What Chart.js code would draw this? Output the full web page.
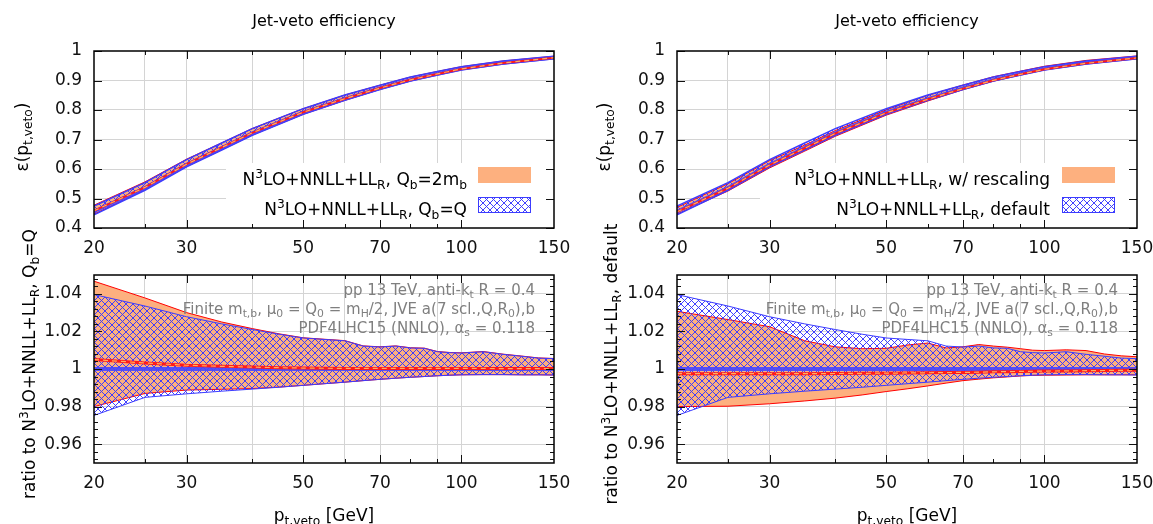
<!DOCTYPE html>
<html><head><meta charset="utf-8">
<script src="https://cdn.jsdelivr.net/npm/chart.js@4.4.1/dist/chart.umd.min.js"></script>
<style>
html,body{margin:0;padding:0;background:#fff;}
body{width:1153px;height:524px;overflow:hidden;position:relative;font-family:"DejaVu Sans",sans-serif;}
canvas{position:absolute;}
.t{position:absolute;white-space:nowrap;color:#000;}
sub,sup{font-size:72%;line-height:0;}
sub{vertical-align:-0.32em;} sup{vertical-align:0.55em;}
.rot{transform:translate(-50%,-50%) rotate(-90deg);}
.ttl{font-size:16px;line-height:20px;transform:translateX(-50%);}
.lab{font-size:17px;line-height:20px;}
.leg{font-size:17px;line-height:20px;text-align:right;}
.ann{font-size:15px;line-height:18px;color:#7f7f7f;text-align:right;}
</style></head>
<body>
<canvas id="c1" width="576" height="262" style="left:0;top:0"></canvas>
<canvas id="c2" width="576" height="262" style="left:0;top:262px"></canvas>
<canvas id="c3" width="570" height="262" style="left:583px;top:0"></canvas>
<canvas id="c4" width="570" height="262" style="left:583px;top:262px"></canvas>

<div class="t ttl" style="left:324px;top:11px">Jet-veto efficiency</div>
<div class="t ttl" style="left:907px;top:11px">Jet-veto efficiency</div>

<div class="t lab rot" style="left:22px;top:137px">ε(p<sub>t,veto</sub>)</div>
<div class="t lab rot" style="left:604px;top:137px">ε(p<sub>t,veto</sub>)</div>
<div class="t lab rot" style="left:29px;top:364px">ratio to N<sup>3</sup>LO+NNLL+LL<sub>R</sub>, Q<sub>b</sub>=Q</div>
<div class="t lab rot" style="left:611px;top:364px">ratio to N<sup>3</sup>LO+NNLL+LL<sub>R</sub>, default</div>

<div class="t lab" style="left:324px;top:505px;transform:translateX(-50%)">p<sub>t,veto</sub> [GeV]</div>
<div class="t lab" style="left:907px;top:505px;transform:translateX(-50%)">p<sub>t,veto</sub> [GeV]</div>

<div class="t leg" style="right:686px;top:169px">N<sup>3</sup>LO+NNLL+LL<sub>R</sub>, Q<sub>b</sub>=2m<sub>b</sub></div>
<div class="t leg" style="right:686px;top:199px">N<sup>3</sup>LO+NNLL+LL<sub>R</sub>, Q<sub>b</sub>=Q</div>
<div class="t leg" style="right:103px;top:169px">N<sup>3</sup>LO+NNLL+LL<sub>R</sub>, w/ rescaling</div>
<div class="t leg" style="right:103px;top:199px">N<sup>3</sup>LO+NNLL+LL<sub>R</sub>, default</div>

<div class="t ann" style="right:618px;top:281px">pp 13 TeV, anti-k<sub>t</sub> R = 0.4</div>
<div class="t ann" style="right:618px;top:299.5px">Finite m<sub>t,b</sub>, μ<sub>0</sub> = Q<sub>0</sub> = m<sub>H</sub>/2, JVE a(7 scl.,Q,R<sub>0</sub>),b</div>
<div class="t ann" style="right:618px;top:318.5px">PDF4LHC15 (NNLO), α<sub>s</sub> = 0.118</div>
<div class="t ann" style="right:35px;top:281px">pp 13 TeV, anti-k<sub>t</sub> R = 0.4</div>
<div class="t ann" style="right:35px;top:299.5px">Finite m<sub>t,b</sub>, μ<sub>0</sub> = Q<sub>0</sub> = m<sub>H</sub>/2, JVE a(7 scl.,Q,R<sub>0</sub>),b</div>
<div class="t ann" style="right:35px;top:318.5px">PDF4LHC15 (NNLO), α<sub>s</sub> = 0.118</div>

<script>
// ---------------- data ----------------
// x axis (p_t,veto in GeV)
const xTickValues = [20,25,30,40,50,60,70,80,90,100,150];
const xTickLabels = [20,30,50,70,100,150];
const xGridValues = [25,30,40,50,60,70,90,100];
const xMajorTicks = [30,50,70,100];
const xMinorTicks = [25,40,60,80,90];

const yTopTicks = [0.4,0.5,0.6,0.7,0.8,0.9,1];
const yTopTickLabels = ['0.4','0.5','0.6','0.7','0.8','0.9','1'];
const yBotTicks = [0.96,0.98,1,1.02,1.04];
const yBotTickLabels = ['0.96','0.98','1','1.02','1.04'];
const yBotMinor = [0.952,0.956,0.964,0.968,0.972,0.976,0.984,0.988,0.992,0.996,1.004,1.008,1.012,1.016,1.024,1.028,1.032,1.036,1.044,1.048];

// top panels: efficiency
const ptTop = [20,25,30,35,40,50,60,70,80,90,100,120,150];
const effQ_central = [0.456,0.536,0.615,0.672,0.722,0.792,0.838,0.874,0.902,0.922,0.939,0.959,0.977];
const effQ_up      = [0.4741,0.5537,0.6319,0.6881,0.7368,0.8045,0.8507,0.8842,0.9119,0.9307,0.9470,0.9663,0.9824];
const effQ_lo      = [0.4447,0.5280,0.6070,0.6643,0.7144,0.7853,0.8326,0.8696,0.8984,0.9190,0.9362,0.9561,0.9741];
const eff2mb_central = [0.4583,0.5376,0.6162,0.6730,0.7227,0.7924,0.8383,0.8743,0.9023,0.9223,0.9393,0.9593,0.9773];
const eff2mb_up      = [0.4773,0.5563,0.6333,0.6888,0.7372,0.8045,0.8507,0.8842,0.9119,0.9307,0.9470,0.9663,0.9824];
const eff2mb_lo      = [0.4469,0.5291,0.6082,0.6649,0.7148,0.7853,0.8326,0.8696,0.8984,0.9190,0.9362,0.9561,0.9741];
const effRes_central = [0.4549,0.5347,0.6135,0.6703,0.7203,0.7903,0.8363,0.8725,0.9007,0.9209,0.9381,0.9582,0.9765];
const effRes_up      = [0.4700,0.5501,0.6285,0.6811,0.7303,0.8007,0.8497,0.8845,0.9128,0.9317,0.9482,0.9681,0.9833];
const effRes_lo      = [0.4469,0.5253,0.6036,0.6606,0.7108,0.7825,0.8305,0.8688,0.8979,0.9189,0.9360,0.9561,0.9741];

// bottom panels: ratios
const pt = [20,25,30,35,40,45,50,55,60,65,70,75,80,85,90,95,100,110,120,130,140,150];
const ratioQ_central = [1,1,1,1,1,1,1,1,1,1,1,1,1,1,1,1,1,1,1,1,1,1];
const ratioQ_up = [1.0396,1.0335,1.0278,1.0240,1.0210,1.0185,1.0165,1.0157,1.0150,1.0122,1.0117,1.0122,1.0112,1.0110,1.0092,1.0087,1.0085,1.0092,1.0078,1.0068,1.0058,1.0055];
const ratioQ_lo = [0.9753,0.9849,0.9868,0.9882,0.9893,0.9903,0.9913,0.9922,0.9930,0.9938,0.9945,0.9951,0.9956,0.9960,0.9964,0.9967,0.9969,0.9970,0.9970,0.9969,0.9969,0.9968];
const ratio2mb_central = [1.0050,1.0032,1.0020,1.0014,1.0010,1.0007,1.0005,1.0004,1.0003,1.0003,1.0003,1.0003,1.0003,1.0003,1.0003,1.0003,1.0003,1.0003,1.0002,1.0002,1.0002,1.0002];
const ratio2mb_up = [1.0467,1.0378,1.0300,1.0250,1.0215,1.0187,1.0166,1.0158,1.0151,1.0123,1.0118,1.0123,1.0113,1.0111,1.0093,1.0088,1.0086,1.0093,1.0079,1.0069,1.0059,1.0056];
const ratio2mb_lo = [0.9800,0.9870,0.9888,0.9892,0.9896,0.9904,0.9913,0.9922,0.9930,0.9938,0.9945,0.9951,0.9956,0.9960,0.9964,0.9967,0.9969,0.9970,0.9970,0.9969,0.9969,0.9968];
const ratioRes_central = [0.9975,0.9975,0.9975,0.9975,0.9976,0.9977,0.9978,0.9979,0.9980,0.9981,0.9982,0.9983,0.9985,0.9986,0.9987,0.9988,0.9989,0.9990,0.9991,0.9992,0.9993,0.9994];
const ratioRes_up = [1.0307,1.0263,1.0225,1.0150,1.0118,1.0108,1.0110,1.0128,1.0138,1.0112,1.0118,1.0130,1.0122,1.0116,1.0108,1.0100,1.0098,1.0102,1.0098,1.0080,1.0070,1.0065];
const ratioRes_lo = [0.9800,0.9802,0.9815,0.9830,0.9845,0.9862,0.9880,0.9895,0.9910,0.9925,0.9938,0.9946,0.9953,0.9958,0.9963,0.9966,0.9967,0.9968,0.9969,0.9969,0.9969,0.9969];

// ---------------- styles ----------------
const FONT = 'DejaVu Sans';
const ORANGE = '#fdb07f';
const RED = '#ff0000';
const BLUE = '#3c3cff';
const GRID = '#d4d4d4';

function hatchPattern(ctx){
  const c = document.createElement('canvas'); c.width = 7; c.height = 7;
  const g = c.getContext('2d');
  g.strokeStyle = 'rgba(55,55,255,0.95)'; g.lineWidth = 1;
  g.beginPath(); g.moveTo(-1,-1); g.lineTo(8,8); g.moveTo(-1,8); g.lineTo(8,-1); g.stroke();
  return ctx.createPattern(c,'repeat');
}
const pts = (xs, ys) => xs.map((x,i)=>({x, y: ys[i]}));

const framePlugin = {
  id:'frame',
  beforeDatasetsDraw(chart, args, o){
    if(!o.legendBox) return;
    const {ctx} = chart; const b = o.legendBox;
    ctx.save(); ctx.fillStyle = '#fff'; ctx.fillRect(b[0], b[1], b[2]-b[0], b[3]-b[1]); ctx.restore();
  },
  afterDatasetsDraw(chart, args, o){
    const {ctx, chartArea:a, scales:{x, y}} = chart;
    ctx.save();
    ctx.strokeStyle = '#111'; ctx.lineWidth = 1;
    const seg = (x1,y1,x2,y2)=>{ctx.beginPath();ctx.moveTo(x1,y1);ctx.lineTo(x2,y2);ctx.stroke();};
    for(const v of xMajorTicks){const p=Math.round(x.getPixelForValue(v))+0.5; seg(p,a.bottom,p,a.bottom-8); seg(p,a.top,p,a.top+8);}
    for(const v of xMinorTicks){const p=Math.round(x.getPixelForValue(v))+0.5; seg(p,a.bottom,p,a.bottom-4); seg(p,a.top,p,a.top+4);}
    for(const v of o.yMajor){const p=Math.round(y.getPixelForValue(v))+0.5; seg(a.left,p,a.left+8,p); seg(a.right,p,a.right-8,p);}
    for(const v of (o.yMinor||[])){const p=Math.round(y.getPixelForValue(v))+0.5; seg(a.left,p,a.left+4,p); seg(a.right,p,a.right-4,p);}
    ctx.lineWidth = 1.5; ctx.strokeStyle = '#000';
    ctx.strokeRect(a.left, a.top, a.right-a.left, a.bottom-a.top);
    if(o.swatches){
      const s = o.swatches;
      ctx.fillStyle = ORANGE; ctx.fillRect(s.x, s.y1, s.w, s.h);
      ctx.fillStyle = hatchPattern(ctx); ctx.fillRect(s.x, s.y2, s.w, s.h);
      ctx.strokeStyle = BLUE; ctx.lineWidth = 1; ctx.strokeRect(s.x+0.5, s.y2+0.5, s.w-1, s.h-1);
    }
    ctx.restore();
  }
};

function buildChart(id, opt){
  const canvas = document.getElementById(id);
  const ctx = canvas.getContext('2d');
  const hp = hatchPattern(ctx);
  const datasets = [
    {data: pts(opt.xs, opt.oc), borderColor:'#ffae60', borderWidth:1.2, borderDash:[5,4], fill:false},
    {data: pts(opt.xs, opt.oc), borderColor:'#ff1a1a', borderWidth:opt.cw, fill:false},
    {data: pts(opt.xs, opt.bc), borderColor:'rgba(70,70,255,0.9)', borderWidth:opt.bw, fill:false},
    {data: pts(opt.xs, opt.bu), borderColor:BLUE, borderWidth:opt.ew, fill:false},
    {data: pts(opt.xs, opt.bl), borderColor:BLUE, borderWidth:opt.ew, backgroundColor:hp, fill:'-1'},
    {data: pts(opt.xs, opt.ou), borderColor:RED, borderWidth:1, fill:false},
    {data: pts(opt.xs, opt.ol), borderColor:RED, borderWidth:1, backgroundColor:ORANGE, fill:'-1'}
  ];
  return new Chart(ctx, {
    type:'line',
    data:{datasets},
    plugins:[framePlugin],
    options:{
      responsive:false, animation:false, devicePixelRatio:1, parsing:true,
      layout:{padding:{left:0, right:opt.padR, top:opt.padT, bottom:0}},
      elements:{point:{radius:0}, line:{tension:0}},
      plugins:{legend:{display:false}, tooltip:{enabled:false}, title:{display:false},
        frame:{yMajor:opt.yTicks, yMinor:opt.yMinor, legendBox:opt.legendBox, swatches:opt.swatches}},
      scales:{
        x:{type:'logarithmic', min:20, max:150,
          afterBuildTicks:s=>{s.ticks = xTickValues.map(v=>({value:v}));},
          afterFit:s=>{s.height = opt.xH; s.paddingLeft = 0; s.paddingRight = 0;},
          ticks:{autoSkip:false, maxRotation:0, minRotation:0, padding:10, color:'#111',
            font:{family:FONT, size:17}, callback:v=> xTickLabels.includes(v) ? String(v) : ''},
          grid:{drawTicks:false, lineWidth:1, color:c=> (c.tick && xGridValues.includes(c.tick.value)) ? GRID : 'rgba(0,0,0,0)'},
          border:{display:false}
        },
        y:{type:'linear', min:opt.yMin, max:opt.yMax,
          afterBuildTicks:s=>{s.ticks = opt.yTicks.map(v=>({value:v}));},
          afterFit:s=>{s.width = 94; s.paddingTop = 0; s.paddingBottom = 0;},
          ticks:{padding:12, color:'#111', font:{family:FONT, size:17},
            callback:(v,i)=> opt.yLabels[i]},
          grid:{drawTicks:false, lineWidth:1, color:c=> (c.tick && c.tick.value>opt.yMin+1e-9 && c.tick.value<opt.yMax-1e-9) ? GRID : 'rgba(0,0,0,0)'},
          border:{display:false}
        }
      }
    }
  });
}

buildChart('c1', {xs:ptTop, oc:eff2mb_central, ou:eff2mb_up, ol:eff2mb_lo, bc:effQ_central, bu:effQ_up, bl:effQ_lo,
  cw:2, bw:3.5, ew:1.5, padR:22, padT:51, xH:34, yMin:0.4, yMax:1, yTicks:yTopTicks, yLabels:yTopTickLabels,
  legendBox:[226,163,554,228], swatches:{x:478, y1:167, y2:197, w:53, h:16}});
buildChart('c2', {xs:pt, oc:ratio2mb_central, ou:ratio2mb_up, ol:ratio2mb_lo, bc:ratioQ_central, bu:ratioQ_up, bl:ratioQ_lo,
  cw:3, bw:4, ew:1, padR:22, padT:13, xH:61, yMin:0.95, yMax:1.05, yTicks:yBotTicks, yLabels:yBotTickLabels, yMinor:yBotMinor});
buildChart('c3', {xs:ptTop, oc:effRes_central, ou:effRes_up, ol:effRes_lo, bc:effQ_central, bu:effQ_up, bl:effQ_lo,
  cw:2, bw:3.5, ew:1.5, padR:16, padT:51, xH:34, yMin:0.4, yMax:1, yTicks:yTopTicks, yLabels:yTopTickLabels,
  legendBox:[177,163,554,228], swatches:{x:479, y1:167, y2:197, w:53, h:16}});
buildChart('c4', {xs:pt, oc:ratioRes_central, ou:ratioRes_up, ol:ratioRes_lo, bc:ratioQ_central, bu:ratioQ_up, bl:ratioQ_lo,
  cw:3, bw:4, ew:1, padR:16, padT:13, xH:61, yMin:0.95, yMax:1.05, yTicks:yBotTicks, yLabels:yBotTickLabels, yMinor:yBotMinor});
</script>
</body></html>
